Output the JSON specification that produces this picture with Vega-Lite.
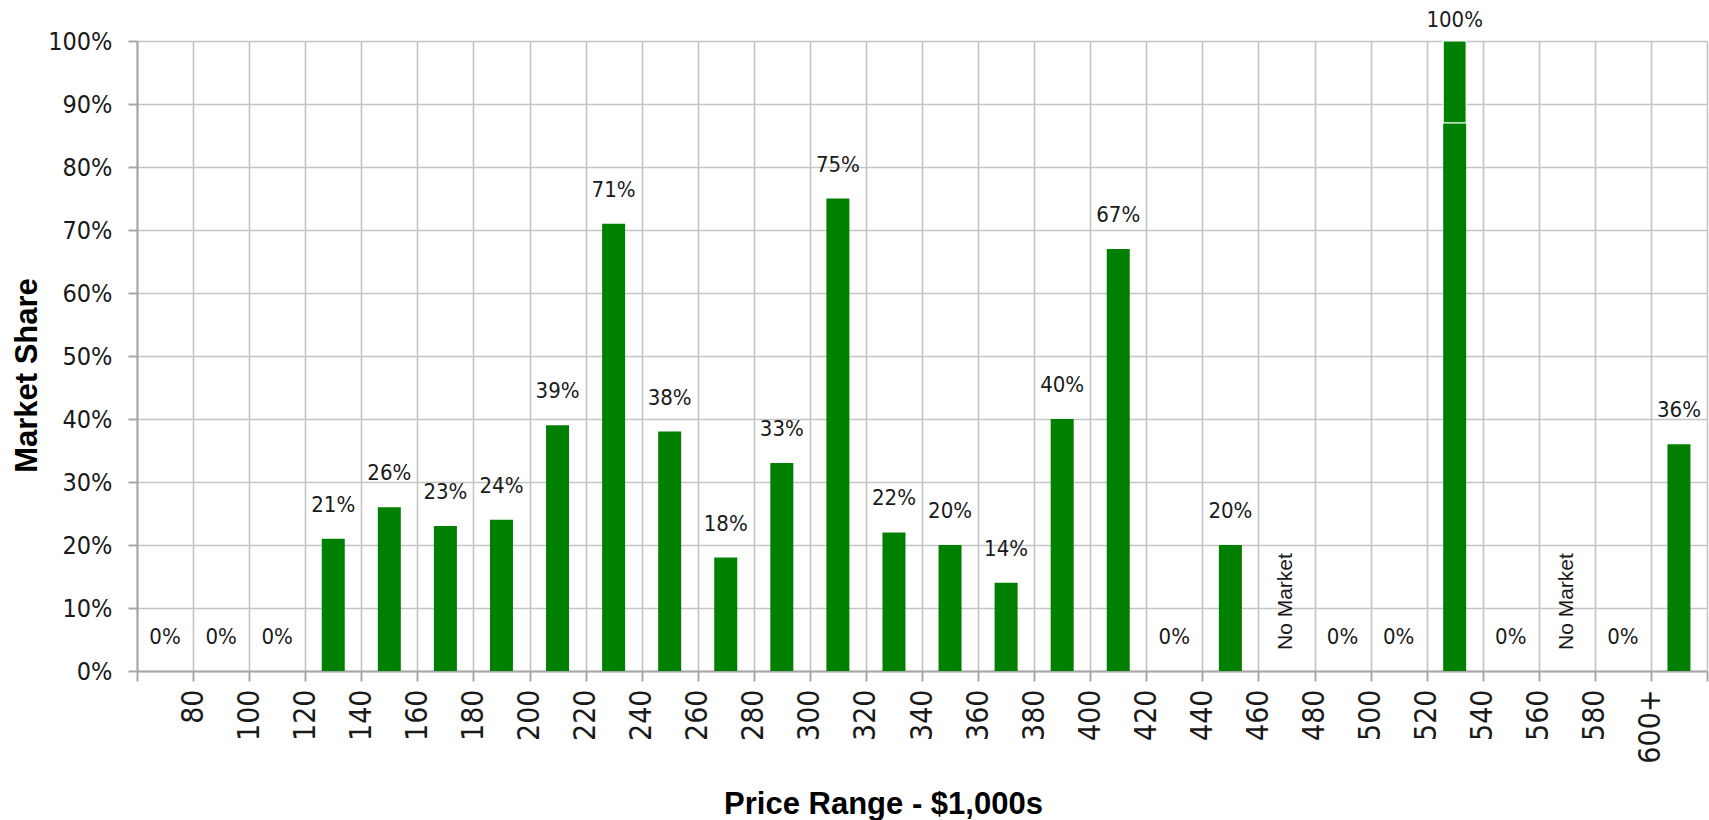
{
  "$schema": "https://vega.github.io/schema/vega-lite/v6.json",
  "width": 1570,
  "height": 630,
  "autosize": {"type": "none"},
  "padding": {"left": 137, "top": 41, "right": 2, "bottom": 149},
  "background": "white",
  "config": {"view": {"stroke": null}},
  "datasets": {
    "bars": [
      {"price": 130, "share": 0.21, "segment": 1},
      {"price": 150, "share": 0.26, "segment": 1},
      {"price": 170, "share": 0.23, "segment": 1},
      {"price": 190, "share": 0.24, "segment": 1},
      {"price": 210, "share": 0.39, "segment": 1},
      {"price": 230, "share": 0.71, "segment": 1},
      {"price": 250, "share": 0.38, "segment": 1},
      {"price": 270, "share": 0.18, "segment": 1},
      {"price": 290, "share": 0.33, "segment": 1},
      {"price": 310, "share": 0.75, "segment": 1},
      {"price": 330, "share": 0.22, "segment": 1},
      {"price": 350, "share": 0.20, "segment": 1},
      {"price": 370, "share": 0.14, "segment": 1},
      {"price": 390, "share": 0.40, "segment": 1},
      {"price": 410, "share": 0.67, "segment": 1},
      {"price": 450, "share": 0.20, "segment": 1},
      {"price": 530, "share": 0.87, "segment": 1},
      {"price": 530, "share": 0.13, "segment": 2},
      {"price": 610, "share": 0.36, "segment": 1}
    ],
    "labels": [
      {"price": 70, "share": 0, "label": "0%"},
      {"price": 90, "share": 0, "label": "0%"},
      {"price": 110, "share": 0, "label": "0%"},
      {"price": 130, "share": 0.21, "label": "21%"},
      {"price": 150, "share": 0.26, "label": "26%"},
      {"price": 170, "share": 0.23, "label": "23%"},
      {"price": 190, "share": 0.24, "label": "24%"},
      {"price": 210, "share": 0.39, "label": "39%"},
      {"price": 230, "share": 0.71, "label": "71%"},
      {"price": 250, "share": 0.38, "label": "38%"},
      {"price": 270, "share": 0.18, "label": "18%"},
      {"price": 290, "share": 0.33, "label": "33%"},
      {"price": 310, "share": 0.75, "label": "75%"},
      {"price": 330, "share": 0.22, "label": "22%"},
      {"price": 350, "share": 0.20, "label": "20%"},
      {"price": 370, "share": 0.14, "label": "14%"},
      {"price": 390, "share": 0.40, "label": "40%"},
      {"price": 410, "share": 0.67, "label": "67%"},
      {"price": 430, "share": 0, "label": "0%"},
      {"price": 450, "share": 0.20, "label": "20%"},
      {"price": 470, "share": null, "label": "No Market"},
      {"price": 490, "share": 0, "label": "0%"},
      {"price": 510, "share": 0, "label": "0%"},
      {"price": 530, "share": 1.0, "label": "100%"},
      {"price": 550, "share": 0, "label": "0%"},
      {"price": 570, "share": null, "label": "No Market"},
      {"price": 590, "share": 0, "label": "0%"},
      {"price": 610, "share": 0.36, "label": "36%"}
    ]
  },
  "layer": [
    {
      "data": {"name": "bars"},
      "mark": {"type": "bar", "size": 23, "color": "#008000", "stroke": "white", "strokeWidth": 1.2},
      "encoding": {
        "x": {
          "field": "price", "type": "quantitative",
          "scale": {"domain": [60, 620], "nice": false, "zero": false, "padding": 0},
          "axis": {
            "values": [60, 80, 100, 120, 140, 160, 180, 200, 220, 240, 260, 280, 300, 320, 340, 360, 380, 400, 420, 440, 460, 480, 500, 520, 540, 560, 580, 600, 620],
            "labelExpr": "datum.value == 60 || datum.value == 620 ? '' : (datum.value == 600 ? '600+' : datum.label)",
            "labelAngle": -90,
            "labelAlign": "right",
            "labelBaseline": "middle",
            "labelFont": "Liberation Sans Narrow, Arial Narrow, DejaVu Sans Condensed, sans-serif",
            "labelFontSize": 30,
            "labelColor": "#1a1a1a",
            "labelPadding": 8,
            "labelFlush": false,
            "labelOverlap": false,
            "tickSize": 10,
            "tickWidth": 2,
            "tickColor": "#a6a6a6",
            "domainColor": "#a6a6a6",
            "domainWidth": 2,
            "grid": true,
            "gridColor": "#c4c4c4",
            "gridWidth": 1.6,
            "title": "Price Range - $1,000s",
            "titleFont": "Liberation Sans, Arial, sans-serif",
            "titleFontSize": 31,
            "titleFontWeight": "bold",
            "titleColor": "#000000",
            "titleX": 746,
            "titleY": 142,
            "titleAlign": "center",
            "titleBaseline": "alphabetic"
          }
        },
        "y": {
          "field": "share", "type": "quantitative", "stack": "zero",
          "scale": {"domain": [0, 1], "nice": false},
          "axis": {
            "values": [0, 0.05, 0.1, 0.15, 0.2, 0.25, 0.3, 0.35, 0.4, 0.45, 0.5, 0.55, 0.6, 0.65, 0.7, 0.75, 0.8, 0.85, 0.9, 0.95, 1.0],
            "format": ".0%",
            "labelExpr": "round(datum.value * 100) % 10 == 0 ? datum.label : ''",
            "labelFont": "Liberation Sans Narrow, Arial Narrow, DejaVu Sans Condensed, sans-serif",
            "labelFontSize": 25,
            "labelColor": "#1a1a1a",
            "labelPadding": 16,
            "labelFlush": false,
            "labelOverlap": false,
            "tickSize": {"condition": {"test": "round(datum.value * 100) % 10 != 0", "value": 7}, "value": 9},
            "tickWidth": 2,
            "tickColor": "#a6a6a6",
            "domainColor": "#a6a6a6",
            "domainWidth": 2,
            "grid": true,
            "gridColor": "#c4c4c4",
            "gridWidth": 1.6,
            "gridOpacity": {"condition": {"test": "round(datum.value * 100) % 10 != 0", "value": 0}, "value": 1},
            "title": "Market Share",
            "titleFont": "Liberation Sans, Arial, sans-serif",
            "titleFontSize": 31,
            "titleFontWeight": "bold",
            "titleColor": "#000000",
            "titleAngle": -90,
            "titleX": -110,
            "titleY": 334,
            "titleAlign": "center",
            "titleBaseline": "middle"
          }
        },
        "order": {"field": "segment"},
        "strokeOpacity": {"condition": {"test": "datum.segment == 2", "value": 1}, "value": 0}
      }
    },
    {
      "data": {"name": "labels"},
      "transform": [{"filter": "isValid(datum.share) && datum.share < 1"}],
      "mark": {"type": "text", "dy": -34, "baseline": "middle", "align": "center", "font": "Liberation Sans Narrow, Arial Narrow, DejaVu Sans Condensed, sans-serif", "fontSize": 22, "color": "#1a1a1a"},
      "encoding": {
        "x": {"field": "price", "type": "quantitative"},
        "y": {"field": "share", "type": "quantitative"},
        "text": {"field": "label"}
      }
    },
    {
      "data": {"name": "labels"},
      "transform": [{"filter": "isValid(datum.share) && datum.share >= 1"}],
      "mark": {"type": "text", "dy": -21, "baseline": "middle", "align": "center", "font": "Liberation Sans Narrow, Arial Narrow, DejaVu Sans Condensed, sans-serif", "fontSize": 22, "color": "#1a1a1a", "clip": false},
      "encoding": {
        "x": {"field": "price", "type": "quantitative"},
        "y": {"field": "share", "type": "quantitative"},
        "text": {"field": "label"}
      }
    },
    {
      "data": {"name": "labels"},
      "transform": [{"filter": "!isValid(datum.share)"}],
      "mark": {"type": "text", "angle": 270, "dx": 21, "baseline": "middle", "align": "left", "font": "Liberation Sans, Arial, sans-serif", "fontSize": 21, "color": "#1a1a1a"},
      "encoding": {
        "x": {"field": "price", "type": "quantitative"},
        "y": {"datum": 0},
        "text": {"field": "label"}
      }
    }
  ]
}
